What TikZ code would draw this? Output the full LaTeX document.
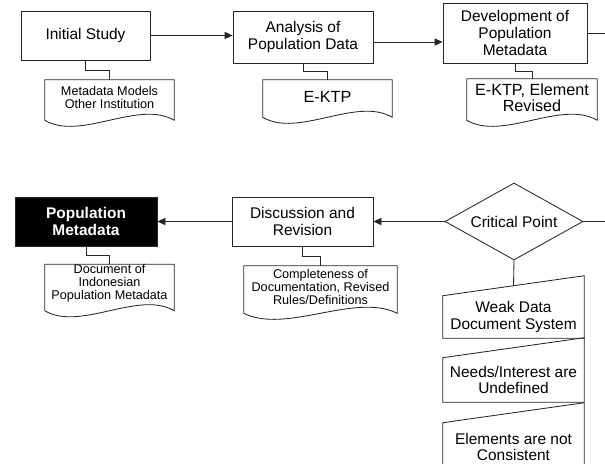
\documentclass[tikz,border=0pt]{standalone}
\usepackage{fontspec}
\setmainfont{Liberation Sans}
\usepackage{tikz}
\usetikzlibrary{shapes.geometric,arrows.meta,calc}

\newlength\px
\setlength\px{0.25mm}

% document shape: wavy bottom, #2 = how far the bottom sits below the node
\newcommand{\docshape}[2]{%
  \draw[flowline] ($(#1.south west)+(0,#2)$) -- (#1.north west) -- (#1.north east)
    -- ($(#1.south east)+(0,#2)$)
    .. controls ($(#1.south)!0.45!(#1.south east)+(0,#2-21)$) and ($(#1.south)!0.45!(#1.south west)+(0,#2+21)$)
    .. ($(#1.south west)+(0,#2)$) -- cycle;}
% manual input: sloped top
\newcommand{\manualin}[1]{%
  \draw[flowline] (#1.south west) -- (#1.north west) -- ($(#1.north east)+(0,-20)$)
    -- (#1.south east) -- cycle;}

\tikzset{
  flowline/.style={draw=black!85, line width=0.6pt},
  flowarrow/.style={flowline, ->},
  procbox/.style={flowline, rectangle, align=center, inner sep=0pt,
    font=\fontsize{11}{12}\selectfont},
  docsmall/.style={align=center, inner sep=0pt, font=\fontsize{9}{9.3}\selectfont},
  doclarge/.style={align=center, inner sep=0pt, font=\fontsize{11.5}{11.5}\selectfont},
  inputbox/.style={align=center, inner sep=0pt, minimum width=141\px,
    font=\fontsize{11}{12}\selectfont},
}

\begin{document}
\begin{tikzpicture}[x=0.25mm, y=-0.25mm, >={Triangle[length=2mm,width=1.8mm]}]
    \useasboundingbox (0,0) rectangle (605,464);
    \clip (0,0) rectangle (605,464);

    % top row
    \node[procbox, minimum width=129\px, minimum height=49\px] (initstudy) at (85.5,35.5) {Initial Study};
    \node[procbox, minimum width=140\px, minimum height=52\px] (analysis) at (303,37) {Analysis of\\Population Data};
    \node[procbox, minimum width=144\px, minimum height=60\px] (develop) at (515,33) {Development of\\Population\\Metadata};

    \node[docsmall, minimum width=129\px, minimum height=35\px] (modeldoc) at (109.5,97.5) {Metadata Models\\Other Institution};
    \node[doclarge, minimum width=129\px, minimum height=34\px] (ektpdoc) at (327.5,97) {E-KTP};
    \node[doclarge, minimum width=130\px, minimum height=38\px] (reviseddoc) at (532,98) {E-KTP, Element\\Revised};
    \docshape{modeldoc}{5}
    \docshape{ektpdoc}{3}
    \docshape{reviseddoc}{3}

    % bottom row
    \node[procbox, fill=black, text=white, font=\fontsize{11}{12}\selectfont\bfseries,
      minimum width=142\px, minimum height=49\px] (popmeta) at (86,221.5) {Population\\Metadata};
    \node[procbox, minimum width=141\px, minimum height=49\px] (discuss) at (302.5,221.5) {Discussion and\\Revision};
    \node[flowline, diamond, aspect=1.8, inner sep=0pt, minimum width=138\px, minimum height=77\px,
      font=\fontsize{11}{12}\selectfont] (critical) at (514,221.5) {Critical Point};

    \node[docsmall, minimum width=129\px, minimum height=35\px] (metadoc) at (109.5,283.5) {Document of\\Indonesian\\Population Metadata};
    \node[docsmall, minimum width=153\px, minimum height=42\px] (rulesdoc) at (320.5,287) {Completeness of\\Documentation, Revised\\Rules/Definitions};
    \docshape{metadoc}{8}
    \docshape{rulesdoc}{5}

    % critical point causes
    \node[inputbox, minimum height=42\px] (weakdoc) at (513.5,317) {Weak Data\\Document System};
    \node[inputbox, minimum height=44\px] (needsdef) at (513.5,380) {Needs/Interest are\\Undefined};
    \node[inputbox, minimum height=48\px] (notconsist) at (513.5,447) {Elements are not\\Consistent};
    \manualin{weakdoc}
    \manualin{needsdef}
    \manualin{notconsist}

    % connectors
    \draw[flowarrow] (initstudy.east) -- (initstudy.east -| analysis.west);
    \coordinate (anout) at ($(analysis.east)+(0,5)$);
    \draw[flowarrow] (anout) -- (anout -| develop.west);
    \coordinate (rightrail) at (605,120);
    \draw[flowline] (develop.east) -| (rightrail) |- (critical.east);
    \draw[flowarrow] (critical.west) -- (discuss.east);
    \draw[flowarrow] (discuss.west) -- (popmeta.east);
    \coordinate (weaktop) at ($(weakdoc.north)+(0,-10)$);
    \draw[flowline] (critical.south) -- (weaktop);

    \draw[flowline] (initstudy.south) |- ($(initstudy.south)!0.5!(modeldoc.north)$) -| (modeldoc.north);
    \draw[flowline] (analysis.south) |- ($(analysis.south)!0.5!(ektpdoc.north)$) -| (ektpdoc.north);
    \draw[flowline] (develop.south) |- ($(develop.south)!0.5!(reviseddoc.north)$) -| (reviseddoc.north);
    \draw[flowline] (popmeta.south) |- ($(popmeta.south)!0.5!(metadoc.north)$) -| (metadoc.north);
    \draw[flowline] (discuss.south) |- ($(discuss.south)!0.5!(rulesdoc.north)$) -| (rulesdoc.north);
\end{tikzpicture}
\end{document}
